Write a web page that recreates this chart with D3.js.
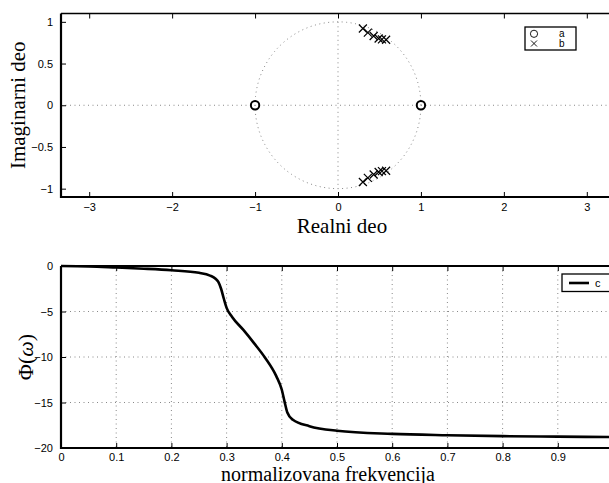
<!DOCTYPE html>
<html>
<head>
<meta charset="utf-8">
<script src="https://cdn.jsdelivr.net/npm/d3@7.9.0/dist/d3.min.js"></script>
<style>
  body { margin: 0; background: #fff; }
  svg { display: block; }
  .tick text { font-family: "Liberation Sans", Arial, sans-serif; font-size: 11px; fill: #000; }
  .lbl { font-family: "Liberation Serif", "Times New Roman", serif; fill: #000; }
  .leg { font-family: "Liberation Sans", Arial, sans-serif; font-size: 10px; fill: #000; }
</style>
</head>
<body>
<svg id="chart" width="609" height="483"></svg>
<script>
// zeros (a) and poles (b)
const zerosRe = [-1, 1];
const zerosIm = [0, 0];
const polesRe = [0.30, 0.36, 0.43, 0.49, 0.53, 0.58, 0.30, 0.36, 0.43, 0.49, 0.53, 0.58];
const polesIm = [0.92, 0.87, 0.83, 0.80, 0.79, 0.785, -0.92, -0.87, -0.83, -0.80, -0.79, -0.785];

// phase response (c)
const freq = [0, 0.05, 0.1, 0.15, 0.2, 0.25, 0.27, 0.28, 0.285, 0.29, 0.295, 0.3, 0.31, 0.33,
  0.35, 0.37, 0.39, 0.40, 0.405, 0.41, 0.42, 0.45, 0.5, 0.6, 0.7, 0.8, 0.9, 1.0];
const phase = [0, -0.05, -0.17, -0.3, -0.47, -0.75, -1.05, -1.4, -1.75, -2.5, -3.6, -4.6, -5.6, -7.0,
  -8.5, -10.1, -12.1, -13.6, -14.9, -16.1, -16.9, -17.6, -18.1, -18.45, -18.6, -18.7, -18.75, -18.8];

const reTicks = [-3, -2, -1, 0, 1, 2, 3];
const imTicks = [-1, -0.5, 0, 0.5, 1];
const fTicks = [0, 0.1, 0.2, 0.3, 0.4, 0.5, 0.6, 0.7, 0.8, 0.9];
const phTicks = [-20, -15, -10, -5, 0];

const svg = d3.select('#chart');
const fmt = d => (d < 0 ? '\u2212' + Math.abs(d) : String(d));

// ---------- top: pole-zero plot ----------
const x1 = d3.scaleLinear().domain([-3.34, 3.34]).range([61, 615]);
const y1 = d3.scaleLinear().domain([-1.1, 1.1]).range([197, 13.5]);
const g1 = svg.append('g');

// unit circle and the two axes lines, dotted
const ang = d3.range(0, 361, 2).map(a => a * Math.PI / 180);
g1.append('path')
  .attr('d', d3.line().x(a => x1(Math.cos(a))).y(a => y1(Math.sin(a)))(ang))
  .attr('fill', 'none').attr('stroke', '#888').attr('stroke-width', 1).attr('stroke-dasharray', '1,3.5');
g1.append('line').attr('x1', x1.range()[0]).attr('x2', x1.range()[1]).attr('y1', y1(0)).attr('y2', y1(0))
  .attr('stroke', '#888').attr('stroke-dasharray', '1,3.5');
g1.append('line').attr('x1', x1(0)).attr('x2', x1(0)).attr('y1', y1(1)).attr('y2', y1(-1))
  .attr('stroke', '#888').attr('stroke-dasharray', '1,3.5');

// axes with inward ticks
g1.append('g').attr('transform', `translate(0,${y1(-1.1)})`)
  .call(d3.axisBottom(x1).tickValues(reTicks).tickFormat(fmt).tickSizeInner(-5).tickSizeOuter(0).tickPadding(6))
  .call(a => a.select('.domain').remove());
g1.append('g').attr('transform', `translate(0,${y1(1.1)})`)
  .call(d3.axisTop(x1).tickValues(reTicks).tickFormat('').tickSizeInner(-5).tickSizeOuter(0))
  .call(a => a.select('.domain').remove());
g1.append('g').attr('transform', `translate(${x1(-3.34)},0)`)
  .call(d3.axisLeft(y1).tickValues(imTicks).tickFormat(fmt).tickSizeInner(-5).tickSizeOuter(0).tickPadding(8))
  .call(a => a.select('.domain').remove());
g1.append('g').attr('transform', `translate(${x1(3.34)},0)`)
  .call(d3.axisRight(y1).tickValues(imTicks).tickFormat('').tickSizeInner(-5).tickSizeOuter(0))
  .call(a => a.select('.domain').remove());

// frame
g1.append('path').attr('d', `M${x1(-3.34)},${y1(1.1)}H${x1(3.34)}`).attr('stroke', '#000').attr('stroke-width', 1.5);
g1.append('path').attr('d', `M${x1(-3.34)},${y1(1.1)}V${y1(-1.1)}H${x1(3.34)}`)
  .attr('fill', 'none').attr('stroke', '#000').attr('stroke-width', 2.2);

// zeros
g1.selectAll('circle.z').data(zerosRe).join('circle').attr('class', 'z')
  .attr('cx', d => x1(d)).attr('cy', (d, i) => y1(zerosIm[i])).attr('r', 4.2)
  .attr('fill', 'none').attr('stroke', '#000').attr('stroke-width', 2);

// poles
const xmark = s => `M${-s},${-s}L${s},${s}M${-s},${s}L${s},${-s}`;
g1.selectAll('path.p').data(polesRe).join('path').attr('class', 'p')
  .attr('transform', (d, i) => `translate(${x1(d)},${y1(polesIm[i])})`)
  .attr('d', xmark(4)).attr('stroke', '#000').attr('stroke-width', 1.2);

// axis labels
g1.append('text').attr('class', 'lbl').attr('x', 342).attr('y', 233).attr('text-anchor', 'middle')
  .style('font-size', '21px').text('Realni deo');
g1.append('text').attr('class', 'lbl').attr('transform', `translate(25,${y1(0)}) rotate(-90)`)
  .attr('text-anchor', 'middle').style('font-size', '21px').text('Imaginarni deo');

// legend a / b
const lg1 = g1.append('g').attr('transform', 'translate(525,27)');
lg1.append('rect').attr('width', 51).attr('height', 23).attr('fill', '#fff').attr('stroke', '#000').attr('stroke-width', 1.3);
lg1.append('circle').attr('cx', 9).attr('cy', 6.8).attr('r', 3.6).attr('fill', 'none').attr('stroke', '#000').attr('stroke-width', 0.9);
lg1.append('path').attr('transform', 'translate(9,16.5)').attr('d', xmark(3)).attr('stroke', '#000').attr('stroke-width', 0.9);
lg1.append('text').attr('class', 'leg').attr('x', 34).attr('y', 10.3).text('a');
lg1.append('text').attr('class', 'leg').attr('x', 34).attr('y', 20.3).text('b');

// ---------- bottom: phase ----------
const x2 = d3.scaleLinear().domain([0, 1]).range([61, 613]);
const y2 = d3.scaleLinear().domain([-20, 0]).range([448, 266]);
const g2 = svg.append('g');

// grid
g2.selectAll('line.gx').data(fTicks.slice(1)).join('line').attr('class', 'gx')
  .attr('x1', d => x2(d)).attr('x2', d => x2(d)).attr('y1', y2(0)).attr('y2', y2(-20))
  .attr('stroke', '#888').attr('stroke-dasharray', '1,3.5');
g2.selectAll('line.gy').data(phTicks.slice(1, 4)).join('line').attr('class', 'gy')
  .attr('x1', x2(0)).attr('x2', x2(1)).attr('y1', d => y2(d)).attr('y2', d => y2(d))
  .attr('stroke', '#888').attr('stroke-dasharray', '1,3.5');

g2.append('g').attr('transform', `translate(0,${y2(-20)})`)
  .call(d3.axisBottom(x2).tickValues(fTicks).tickFormat(d => String(d)).tickSizeInner(-5).tickSizeOuter(0).tickPadding(5))
  .call(a => a.select('.domain').remove());
g2.append('g').attr('transform', `translate(0,${y2(0)})`)
  .call(d3.axisTop(x2).tickValues(fTicks).tickFormat('').tickSizeInner(-5).tickSizeOuter(0))
  .call(a => a.select('.domain').remove());
g2.append('g').attr('transform', `translate(${x2(0)},0)`)
  .call(d3.axisLeft(y2).tickValues(phTicks).tickFormat(fmt).tickSizeInner(-5).tickSizeOuter(0).tickPadding(8))
  .call(a => a.select('.domain').remove());

g2.append('path').attr('d', `M${x2(0)},${y2(0)}H${x2(1)}`).attr('stroke', '#000').attr('stroke-width', 1.8);
g2.append('path').attr('d', `M${x2(0)},${y2(0)}V${y2(-20)}H${x2(1)}`)
  .attr('fill', 'none').attr('stroke', '#000').attr('stroke-width', 2.2);

// phase curve
g2.append('path')
  .attr('d', d3.line().x((d, i) => x2(freq[i])).y(d => y2(d)).curve(d3.curveMonotoneX)(phase))
  .attr('fill', 'none').attr('stroke', '#000').attr('stroke-width', 2.6);

// labels
g2.append('text').attr('class', 'lbl').attr('x', 328).attr('y', 481).attr('text-anchor', 'middle')
  .style('font-size', '20px').text('normalizovana frekvencija');
const yl = g2.append('text').attr('class', 'lbl').attr('transform', `translate(33,${y2(-10)}) rotate(-90)`)
  .attr('text-anchor', 'middle').style('font-size', '22px');
yl.append('tspan').text('\u03A6(');
yl.append('tspan').style('font-style', 'italic').text('\u03C9');
yl.append('tspan').text(')');

// legend c
const lg2 = g2.append('g').attr('transform', 'translate(562,274)');
lg2.append('rect').attr('width', 60).attr('height', 17.5).attr('fill', '#fff').attr('stroke', '#000').attr('stroke-width', 1.3);
lg2.append('line').attr('x1', 7).attr('x2', 27).attr('y1', 9).attr('y2', 9).attr('stroke', '#000').attr('stroke-width', 2.6);
lg2.append('text').attr('class', 'leg').attr('x', 33).attr('y', 12.5).style('font-size', '11px').text('c');
</script>
</body>
</html>
